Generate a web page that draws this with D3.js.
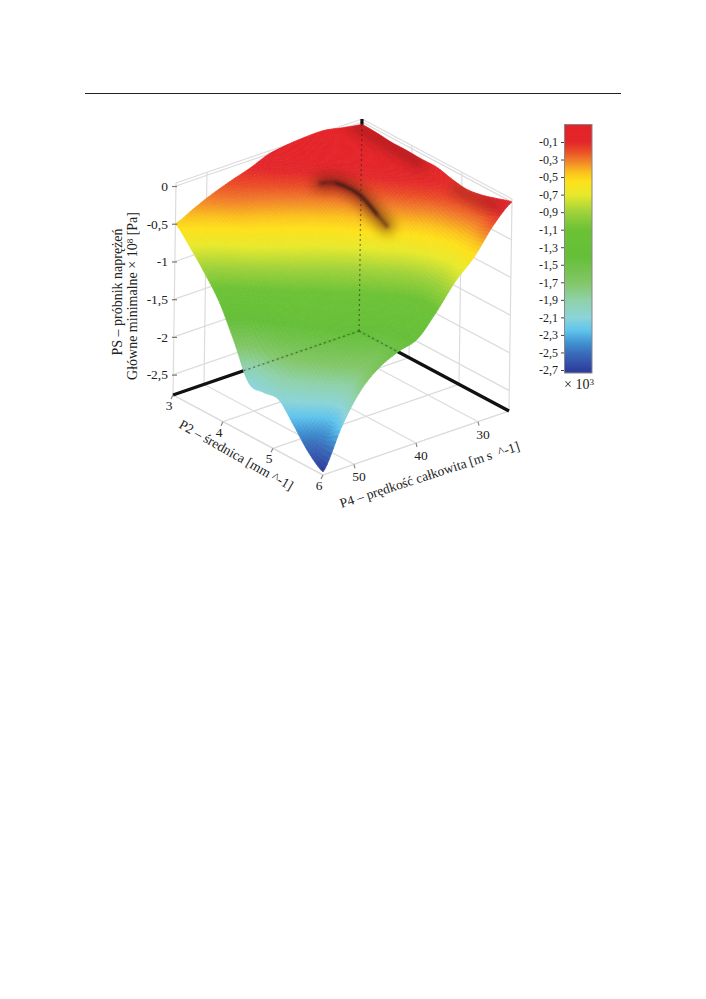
<!DOCTYPE html>
<html>
<head>
<meta charset="utf-8">
<style>
  body { margin: 0; background: #fff; }
  text { font-family: "Liberation Serif", serif; fill: #222; white-space: pre; }
</style>
<script src="https://cdn.jsdelivr.net/npm/d3@7"></script>
</head>
<body>
<div id="chart"></div>
<script>
// values
var p2Values = [3, 3.3, 3.6, 3.9, 4.2, 4.5, 4.8, 5.1, 5.4, 5.7, 6];
var p4Values = [55, 52, 49, 46, 43, 40, 37, 34, 31, 28, 25];

// one row per P4 value, one column per P2 value
var zAtP4_55 = [-0.50, -0.71, -0.95, -1.23, -1.64, -2.08, -2.10, -2.09, -2.32, -2.57, -2.73];
var zAtP4_52 = [-0.38, -0.55, -0.78, -1.00, -1.28, -1.50, -1.65, -1.80, -2.05, -2.35, -2.20];
var zAtP4_49 = [-0.27, -0.38, -0.56, -0.78, -1.03, -1.24, -1.40, -1.52, -1.72, -1.95, -1.81];
var zAtP4_46 = [-0.18, -0.27, -0.43, -0.62, -0.82, -1.05, -1.23, -1.36, -1.50, -1.68, -1.59];
var zAtP4_43 = [-0.10, -0.18, -0.31, -0.48, -0.67, -0.87, -1.06, -1.22, -1.36, -1.50, -1.47];
var zAtP4_40 = [0.00, -0.07, -0.19, -0.34, -0.51, -0.69, -0.89, -1.07, -1.22, -1.32, -1.39];
var zAtP4_37 = [0.04, -0.02, -0.08, -0.20, -0.34, -0.49, -0.67, -0.87, -1.04, -1.14, -1.12];
var zAtP4_34 = [0.06, 0.00, -0.03, -0.08, -0.18, -0.30, -0.46, -0.64, -0.78, -0.85, -0.80];
var zAtP4_31 = [0.06, 0.02, 0.00, -0.03, -0.06, -0.14, -0.26, -0.42, -0.52, -0.58, -0.56];
var zAtP4_28 = [0.01, 0.02, 0.00, -0.02, -0.04, -0.07, -0.12, -0.20, -0.27, -0.30, -0.23];
var zAtP4_25 = [-0.03, -0.04, -0.06, -0.06, -0.07, -0.07, -0.12, -0.15, -0.12, -0.06, 0.00];
var zRows = [zAtP4_55, zAtP4_52, zAtP4_49, zAtP4_46, zAtP4_43, zAtP4_40, zAtP4_37, zAtP4_34, zAtP4_31, zAtP4_28, zAtP4_25];

var zTicks = [0, -0.5, -1, -1.5, -2, -2.5];
var p2Ticks = [3, 4, 5, 6];
var p4Ticks = [50, 40, 30];
var barTicks = [-0.1, -0.3, -0.5, -0.7, -0.9, -1.1, -1.3, -1.5, -1.7, -1.9, -2.1, -2.3, -2.5, -2.7];

// colour bar
var barStops = [0.1, -0.1, -0.2, -0.3, -0.45, -0.55, -0.7, -0.9, -1.1, -1.4, -1.7, -1.9, -2.1, -2.25, -2.4, -2.5, -2.7];
var barColors = ['#e52329', '#e3262a', '#ea4a26', '#f0792a', '#fbc31c', '#fde11a', '#e8e92b', '#9fd23a', '#6cc235', '#64bf37', '#82c666', '#8fd1a8', '#8cd4d8', '#5fc4ec', '#3f8fd0', '#3a6fbc', '#2e3f9e'];

// dark fold on the surface and dark patches along the back edges, [P2, P4]
var creaseP2 = [3.77, 3.89, 4.2, 4.56, 4.74];
var creaseP4 = [37.9, 36.4, 35.2, 35.05, 34.9];
var creaseCoreP2 = [3.89, 4.2, 4.56];
var creaseCoreP4 = [36.4, 35.2, 35.05];
var backShadeP2 = [3.0, 3.4, 3.9, 4.3];
var backShadeP4 = [26, 26, 26, 26];
var cornerShadeP2 = [5.0, 5.3, 5.6, 5.8];
var cornerShadeP4 = [26, 26, 26, 26];

var width = 706, height = 999;

var svg = d3.select('#chart').append('svg')
  .attr('width', width)
  .attr('height', height);

var uScale = d3.scaleLinear().domain([3, 6]).range([0, 1]);
var wScale = d3.scaleLinear().domain([55, 25]).range([0, 1]);
var hScale = d3.scaleLinear().domain([-2.77, 0.04]).range([0, 212]);
var colorScale = d3.scaleLinear().domain(barStops).range(barColors).clamp(true);

// box projection: floor corner at the left, P2 runs to the front, P4 to the back
var project = function(p2, p4, z) {
  var u = uScale(p2), w = wScale(p4), h = hScale(z);
  return [173 + 150 * u + 186 * w + 3 * h / 212, 395 + 80 * u - 64 * w - h];
};

var catmull = function(a, b, c, d, t) {
  return 0.5 * (2 * b + (c - a) * t + (2 * a - 5 * b + 4 * c - d) * t * t + (3 * b - a - 3 * c + d) * t * t * t);
};

// smooth painting of the read values between grid nodes
var surfaceZ = function(p2, p4) {
  var n = p2Values.length - 1;
  var fi = wScale(p4) * n, fj = uScale(p2) * n;
  var i = Math.min(Math.floor(fi), n - 1), j = Math.min(Math.floor(fj), n - 1);
  var col = function(r) {
    var row = zRows[Math.max(0, Math.min(n, r))];
    return catmull(row[Math.max(0, j - 1)], row[j], row[j + 1], row[Math.min(n, j + 2)], fj - j);
  };
  return catmull(col(i - 1), col(i), col(i + 1), col(i + 2), fi - i);
};

var line = d3.line();
var wallLine = function(a, b) {
  return line([project(a[0], a[1], a[2]), project(b[0], b[1], b[2])]);
};

var defs = svg.append('defs');
var addBlur = function(id, dev) {
  defs.append('filter').attr('id', id)
    .attr('x', '-50%').attr('y', '-50%').attr('width', '200%').attr('height', '200%')
    .append('feGaussianBlur').attr('stdDeviation', dev);
};
addBlur('blurS', 0.7);
addBlur('blurA', 1.8);
addBlur('blurB', 6);

// walls and floor
var walls = svg.append('g')
  .attr('fill', 'none')
  .attr('stroke', '#dcdcdc')
  .attr('stroke-width', 1.2);

zTicks.concat([0.04, -2.77]).forEach(function(z) {
  walls.append('path').attr('d', wallLine([3, 55, z], [3, 25, z]));
  walls.append('path').attr('d', wallLine([3, 25, z], [6, 25, z]));
});
p4Ticks.concat([55, 25]).forEach(function(p) {
  walls.append('path').attr('d', wallLine([3, p, -2.77], [3, p, 0.04]));
  walls.append('path').attr('d', wallLine([3, p, -2.77], [6, p, -2.77]));
});
p2Ticks.forEach(function(p) {
  walls.append('path').attr('d', wallLine([p, 25, -2.77], [p, 25, 0.04]));
  walls.append('path').attr('d', wallLine([p, 55, -2.77], [p, 25, -2.77]));
});
walls.append('path').attr('d', wallLine([6, 55, -2.77], [6, 25, -2.77]));
walls.append('path').attr('d', wallLine([3, 55, -2.77], [6, 55, -2.77]));

// thick black axes behind the surface
var blackAxes = svg.append('g')
  .attr('fill', 'none')
  .attr('stroke', '#111')
  .attr('stroke-width', 3.2);
blackAxes.append('path').attr('d', wallLine([3, 55, -2.77], [3, 25, -2.77]));
blackAxes.append('path').attr('d', wallLine([6, 25, -2.77], [3, 25, -2.77]));
blackAxes.append('path').attr('d', wallLine([3, 25, 0.04], [3, 25, -0.05]));

// surface mesh, back to front
var sub = 9;
var cells = [];
for (var i = p4Values.length - 2; i >= 0; i--) {
  for (var si = sub - 1; si >= 0; si--) {
    for (var j = 0; j < p2Values.length - 1; j++) {
      for (var sj = 0; sj < sub; sj++) {
        var a4 = p4Values[i] + (p4Values[i + 1] - p4Values[i]) * si / sub;
        var b4 = p4Values[i] + (p4Values[i + 1] - p4Values[i]) * (si + 1) / sub;
        var a2 = p2Values[j] + (p2Values[j + 1] - p2Values[j]) * sj / sub;
        var b2 = p2Values[j] + (p2Values[j + 1] - p2Values[j]) * (sj + 1) / sub;
        cells.push([[a2, a4], [b2, a4], [b2, b4], [a2, b4]]);
      }
    }
  }
}

svg.append('g').attr('filter', 'url(#blurS)').selectAll('path')
  .data(cells)
  .enter()
  .append('path')
    .attr('d', function(c) {
      return line(c.map(function(q) { return project(q[0], q[1], surfaceZ(q[0], q[1])); })) + 'Z';
    })
    .attr('fill', function(c) {
      return colorScale(d3.mean(c, function(q) { return surfaceZ(q[0], q[1]); }));
    })
    .attr('stroke', function(c) {
      return colorScale(d3.mean(c, function(q) { return surfaceZ(q[0], q[1]); }));
    })
    .attr('stroke-width', 0.7);

// shading, clipped to the outline of the surface
var outline = [];
p2Values.forEach(function(p) { outline.push(project(p, 25, surfaceZ(p, 25))); });
p4Values.slice().reverse().forEach(function(p) { outline.push(project(6, p, surfaceZ(6, p))); });
p2Values.slice().reverse().forEach(function(p) { outline.push(project(p, 55, surfaceZ(p, 55))); });
p4Values.forEach(function(p) { outline.push(project(3, p, surfaceZ(3, p))); });
defs.append('clipPath').attr('id', 'surfaceClip')
  .append('path').attr('d', line(outline) + 'Z');

var curve = d3.line().curve(d3.curveCatmullRom);
var shadePath = function(xs, ys) {
  return curve(xs.map(function(p, k) { return project(p, ys[k], surfaceZ(p, ys[k])); }));
};
var shade = svg.append('g').attr('clip-path', 'url(#surfaceClip)').attr('fill', 'none').attr('stroke-linecap', 'round');
shade.append('path').attr('d', shadePath(creaseP2, creaseP4))
  .attr('stroke', '#5a1210').attr('stroke-width', 14).attr('opacity', 0.6).attr('filter', 'url(#blurB)');
shade.append('path').attr('d', shadePath(creaseP2, creaseP4))
  .attr('stroke', '#3a1414').attr('stroke-width', 3).attr('opacity', 0.55).attr('filter', 'url(#blurA)');
shade.append('path').attr('d', shadePath(creaseCoreP2, creaseCoreP4))
  .attr('stroke', '#2a1414').attr('stroke-width', 2.5).attr('opacity', 0.7).attr('filter', 'url(#blurA)');
shade.append('path').attr('d', shadePath(backShadeP2, backShadeP4))
  .attr('stroke', '#7a1418').attr('stroke-width', 12).attr('opacity', 0.45).attr('filter', 'url(#blurB)');
shade.append('path').attr('d', shadePath(cornerShadeP2, cornerShadeP4))
  .attr('stroke', '#7a1418').attr('stroke-width', 10).attr('opacity', 0.45).attr('filter', 'url(#blurB)');

// dotted hidden axes over the surface
var dotted = svg.append('g')
  .attr('fill', 'none')
  .attr('stroke', '#222')
  .attr('stroke-opacity', 0.5)
  .attr('stroke-width', 1.3)
  .attr('stroke-dasharray', '2,3');
dotted.append('path').attr('d', wallLine([3, 25, -2.77], [3, 25, 0.04]));
dotted.append('path').attr('d', wallLine([3, 25, -2.77], [3, 43.6, -2.77]));
dotted.append('path').attr('d', wallLine([3, 25, -2.77], [3.85, 25, -2.77]));

// top rule
svg.append('line')
  .attr('x1', 85).attr('x2', 621)
  .attr('y1', 93.5).attr('y2', 93.5)
  .attr('stroke', '#222').attr('stroke-width', 1);

var comma = function(d) { return String(d).replace('.', ','); };

// z axis
var zAxisScale = d3.scaleLinear()
  .domain(hScale.domain())
  .range([395, 183]);
var zAxis = svg.append('g')
  .attr('transform', 'translate(177,0)')
  .call(d3.axisLeft(zAxisScale).tickValues(zTicks).tickSize(5).tickPadding(4).tickFormat(comma));
zAxis.select('.domain').remove();
zAxis.selectAll('.tick line').attr('stroke', '#777').attr('stroke-width', 1.2);
zAxis.selectAll('text').style('font-family', '"Liberation Serif", serif').style('font-size', '13.5px');

// floor tick marks and labels
var floorTicks = svg.append('g');
p2Ticks.forEach(function(p) {
  var q = project(p, 55, -2.77);
  floorTicks.append('line')
    .attr('x1', q[0]).attr('y1', q[1])
    .attr('x2', q[0] - 2).attr('y2', q[1] + 4)
    .attr('stroke', '#888').attr('stroke-width', 1.2);
  floorTicks.append('text')
    .attr('x', q[0] - 4).attr('y', q[1] + 15)
    .attr('text-anchor', 'middle')
    .attr('font-size', 13.5)
    .text(p);
});
p4Ticks.forEach(function(p) {
  var q = project(6, p, -2.77);
  floorTicks.append('line')
    .attr('x1', q[0]).attr('y1', q[1])
    .attr('x2', q[0] + 1).attr('y2', q[1] + 4)
    .attr('stroke', '#888').attr('stroke-width', 1.2);
  floorTicks.append('text')
    .attr('x', q[0] + 5).attr('y', q[1] + 17)
    .attr('text-anchor', 'middle')
    .attr('font-size', 13.5)
    .text(p);
});

// axis titles
svg.append('text')
  .attr('transform', 'translate(234,459) rotate(29.5)')
  .attr('text-anchor', 'middle')
  .attr('font-size', 13.7)
  .text('P2 – średnica [mm ^-1]');
svg.append('text')
  .attr('transform', 'translate(431,479) rotate(-18)')
  .attr('text-anchor', 'middle')
  .attr('font-size', 13.5)
  .text('P4 – prędkość całkowita [m s  ^-1]');
svg.append('text')
  .attr('transform', 'translate(122,292) rotate(-90)')
  .attr('text-anchor', 'middle')
  .attr('font-size', 14)
  .text('PS – próbnik naprężeń');
var yTitle = svg.append('text')
  .attr('transform', 'translate(137,296) rotate(-90)')
  .attr('text-anchor', 'middle')
  .attr('font-size', 14)
  .text('Główne minimalne × 10');
yTitle.append('tspan').attr('dy', -4).attr('font-size', 9).text('8');
yTitle.append('tspan').attr('dy', 4).text(' [Pa]');

// colour bar
var barScale = d3.scaleLinear().domain([-0.1, -2.7]).range([142, 370]);
var gradient = defs.append('linearGradient')
  .attr('id', 'barGradient')
  .attr('x1', 0).attr('x2', 0).attr('y1', 0).attr('y2', 1);
var barTop = barScale.invert(124.5), barBottom = barScale.invert(373);
gradient.selectAll('stop')
  .data(barStops)
  .enter()
  .append('stop')
    .attr('offset', function(d) { return Math.max(0, (barTop - d) / (barTop - barBottom)); })
    .attr('stop-color', function(d, k) { return barColors[k]; });
svg.append('rect')
  .attr('x', 564.5).attr('y', 124.5)
  .attr('width', 27.5).attr('height', 248.5)
  .attr('fill', 'url(#barGradient)')
  .attr('stroke', '#888').attr('stroke-width', 1);
var barAxis = svg.append('g')
  .attr('transform', 'translate(564,0)')
  .call(d3.axisLeft(barScale).tickValues(barTicks).tickSize(3).tickPadding(3).tickFormat(comma));
barAxis.select('.domain').remove();
barAxis.selectAll('.tick line').attr('stroke', '#444');
barAxis.selectAll('text').style('font-family', '"Liberation Serif", serif').style('font-size', '12px');

var barUnit = svg.append('text')
  .attr('x', 564).attr('y', 389)
  .attr('font-size', 14)
  .text('× 10');
barUnit.append('tspan').attr('dy', -4).attr('font-size', 9).text('3');
</script>
</body>
</html>
